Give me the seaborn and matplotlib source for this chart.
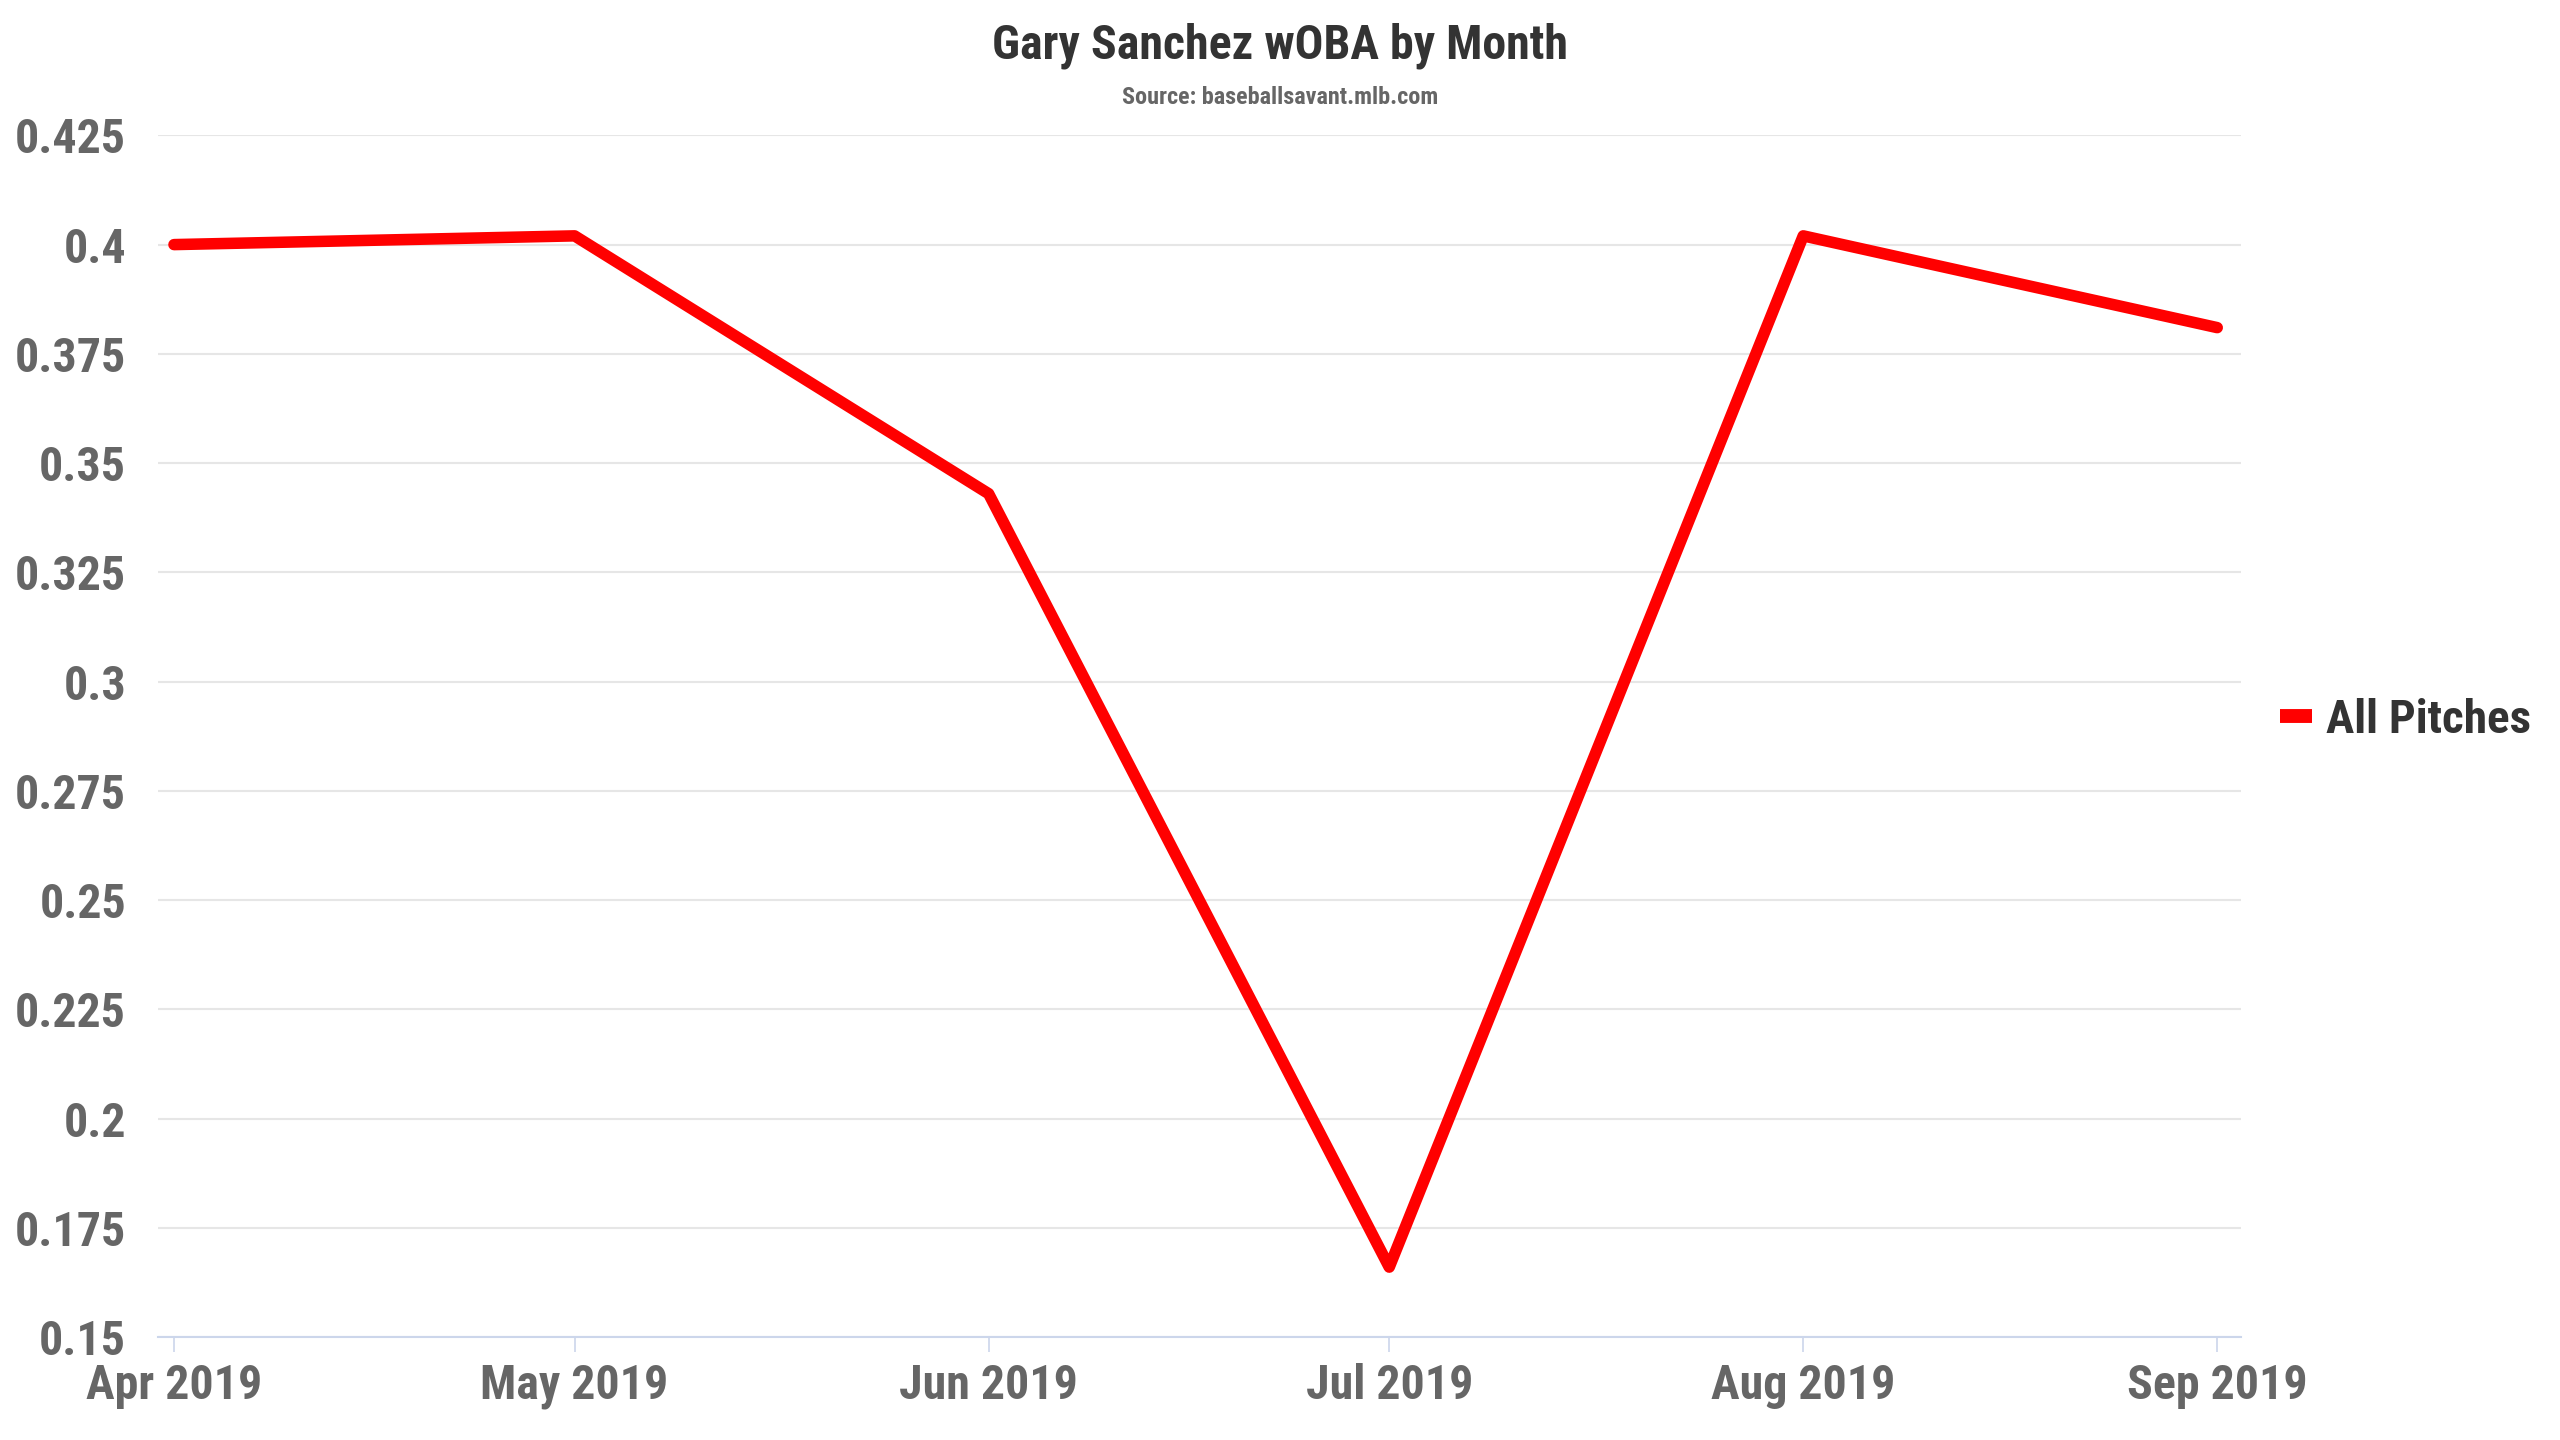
import numpy as np
import pandas as pd
import matplotlib
matplotlib.use("Agg")
import matplotlib.pyplot as plt
import matplotlib.dates as mdates
from matplotlib import font_manager as fm
import seaborn as sns

months = ["2019-04-01", "2019-05-01", "2019-06-01", "2019-07-01", "2019-08-01", "2019-09-01"]
month_labels = ["Apr 2019", "May 2019", "Jun 2019", "Jul 2019", "Aug 2019", "Sep 2019"]
woba = [0.400, 0.402, 0.343, 0.166, 0.402, 0.381]
y_ticks = [0.15, 0.175, 0.2, 0.225, 0.25, 0.275, 0.3, 0.325, 0.35, 0.375, 0.4, 0.425]
series_name = "All Pitches"
title = "Gary Sanchez wOBA by Month"
subtitle = "Source: baseballsavant.mlb.com"

sns.set_theme(style="white")
names = {f.name for f in fm.fontManager.ttflist}
cond = "DejaVu Sans"
for cand in ["Roboto Condensed", "Liberation Sans Narrow", "Roboto"]:
    if cand in names:
        cond = cand
        break
plt.rcParams["font.family"] = [cond, "DejaVu Sans"]

df = pd.DataFrame({"month": pd.to_datetime(months), "woba": woba})

fig = plt.figure(figsize=(25.6, 14.4), dpi=100)
ax = fig.add_axes([0.0617, 0.0715, 0.8755 - 0.0617, 0.906 - 0.0715])

sns.lineplot(data=df, x="month", y="woba", ax=ax, color="#ff0000", linewidth=8.3,
             label=series_name, solid_joinstyle="round", solid_capstyle="round")

ax.set_ylim(0.15, 0.425)
ax.set_xlim(pd.Timestamp("2019-04-01") - pd.Timedelta(days=1.2),
            pd.Timestamp("2019-09-01") + pd.Timedelta(days=1.8))
ax.set_yticks(y_ticks)
ax.set_yticklabels([f"{v:g}" for v in y_ticks])
ax.set_xticks(df["month"])
ax.set_xticklabels(month_labels)

ax.grid(axis="y", color="#e6e6e6", linewidth=1.5)
ax.set_axisbelow(True)
for s in ["top", "right", "left"]:
    ax.spines[s].set_visible(False)
ax.spines["bottom"].set_color("#ccd6eb")
ax.spines["bottom"].set_linewidth(1.5)
ax.tick_params(axis="y", length=0, pad=23, labelsize=34.5, labelcolor="#666666")
ax.tick_params(axis="x", length=11, width=1.2, color="#ccd6eb", direction="out",
               pad=8, labelsize=34.5, labelcolor="#666666", bottom=True)
for lab in ax.get_xticklabels() + ax.get_yticklabels():
    lab.set_fontweight("bold")
ax.set_xlabel("")
ax.set_ylabel("")

fig.text(0.5, 1 - 46 / 1440, title, ha="center", va="center", fontsize=34.5,
         fontweight="bold", color="#333333")
fig.text(0.5, 1 - 98 / 1440, subtitle, ha="center", va="center", fontsize=17.4,
         fontweight="bold", color="#666666")

leg = ax.legend(loc="center left", bbox_to_anchor=(2280 / 2560, 1 - 720 / 1440),
                bbox_transform=fig.transFigure, frameon=False,
                prop={"size": 34, "weight": "bold"}, handlelength=0.68,
                handletextpad=0.3, borderaxespad=0, borderpad=0)
for t in leg.get_texts():
    t.set_color("#333333")
for h in leg.legend_handles:
    h.set_linewidth(10)
    h.set_solid_capstyle("butt")

fig.savefig("out.png", dpi=100, facecolor="white")
